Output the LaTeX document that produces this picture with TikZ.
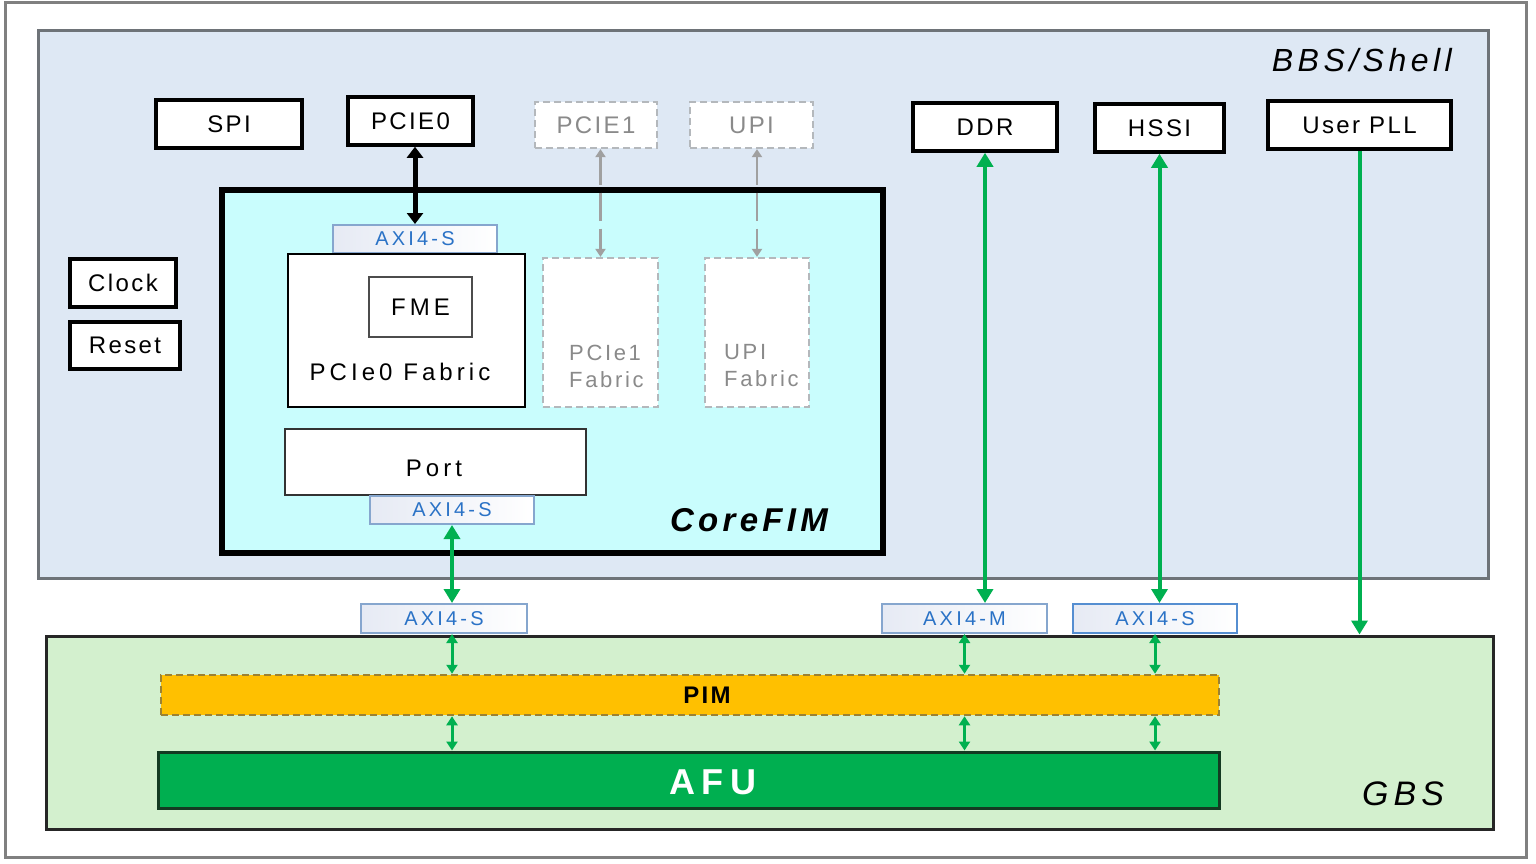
\documentclass[tikz,border=0pt]{standalone}
\usepackage{fontspec}
\setmainfont{Liberation Sans}
\usetikzlibrary{arrows.meta,fit}
\definecolor{outerg}{HTML}{808080}
\definecolor{bbsfill}{HTML}{DEE8F4}
\definecolor{bbsline}{HTML}{6E7378}
\definecolor{corefill}{HTML}{C9FDFD}
\definecolor{gbsfill}{HTML}{D3F0CE}
\definecolor{pimfill}{HTML}{FFC000}
\definecolor{pimline}{HTML}{9C8232}
\definecolor{afufill}{HTML}{00AF50}
\definecolor{afuline}{HTML}{143A22}
\definecolor{grn}{HTML}{00B050}
\definecolor{axb}{HTML}{86A6CE}
\definecolor{axl}{HTML}{E6EAF4}
\definecolor{axt}{HTML}{2A72C6}
\definecolor{dgray}{HTML}{B4B8BC}
\definecolor{tgray}{HTML}{8A8A8A}
\definecolor{agray}{HTML}{A0A0A0}
\begin{document}
\begin{tikzpicture}[x=1pt,y=-1pt,
  tx/.style={inner sep=0pt, font=\fontsize{24}{26}\selectfont\addfontfeature{LetterSpace=10}},
  txw/.style={inner sep=0pt, font=\fontsize{24}{26}\selectfont\addfontfeature{LetterSpace=17}},
  txa/.style={inner sep=0pt, text=axt, font=\fontsize{20}{22}\selectfont\addfontfeature{LetterSpace=16}},
  txg/.style={inner sep=0pt, text=tgray, font=\fontsize{22}{27}\selectfont\addfontfeature{LetterSpace=12}, align=left, anchor=west},
  blk/.style={draw=black, line width=3.5pt, fill=white, inner sep=0pt},
  dsh/.style={draw=dgray, dash pattern=on 7pt off 4pt, line width=2.2pt, fill=white, inner sep=0pt},
  axi/.style={draw=axb, line width=2pt, left color=axl, right color=white, inner sep=0pt},
  garr/.style={draw=grn, line width=4pt, {Triangle[length=14pt,width=16pt]}-{Triangle[length=14pt,width=16pt]}},
  sarr/.style={draw=grn, line width=3pt, {Triangle[length=9pt,width=11pt]}-{Triangle[length=9pt,width=11pt]}},
  barr/.style={draw=black, line width=5pt, {Triangle[length=11pt,width=16pt]}-{Triangle[length=11pt,width=16pt]}},
  darr/.style={draw=agray, line width=2.5pt, dash pattern=on 28pt off 8pt, {Triangle[length=8pt,width=10pt]}-{Triangle[length=8pt,width=10pt]}}
]
\useasboundingbox (0,0) rectangle (1536,864);
% outer frame
\node[draw=outerg, line width=3pt, fill=white, inner sep=0pt, fit={(5,3) (1526,857)}] (frame) {};
% BBS shell
\node[draw=bbsline, line width=3pt, fill=bbsfill, inner sep=0pt, fit={(38,31) (1488,578)}] (bbs) {};
\node[inner sep=0pt, font=\fontsize{32}{34}\selectfont\itshape\addfontfeature{LetterSpace=14}, anchor=east] (bbslbl) at (1452,60) {BBS/Shell};
% top row
\node[blk, fit={(156,100) (302,148)}, label={[tx]center:SPI}] (spi) {};
\node[blk, fit={(348,97) (473,145)}, label={[tx]center:PCIE0}] (pcie0) {};
\node[dsh, fit={(535,102) (657,148)}, label={[tx,text=tgray]center:PCIE1}] (pcie1) {};
\node[dsh, fit={(690,102) (813,148)}, label={[tx,text=tgray]center:UPI}] (upi) {};
\node[blk, fit={(913,103) (1057,151)}, label={[tx]center:DDR}] (ddr) {};
\node[blk, fit={(1095,104) (1224,152)}, label={[tx]center:HSSI}] (hssi) {};
\node[blk, fit={(1268,101) (1451,149)}, label={[tx]center:User PLL}] (upll) {};
\node[blk, fit={(70,259) (176,307)}, label={[tx]center:Clock}] (clock) {};
\node[blk, fit={(70,322) (180,369)}, label={[tx]center:Reset}] (reset) {};
% CoreFIM
\node[draw=black, line width=6.5pt, fill=corefill, inner sep=0pt, fit={(222,190) (883,553)}] (core) {};
\node[inner sep=0pt, font=\fontsize{33}{35}\selectfont\bfseries\itshape\addfontfeature{LetterSpace=13}] (corelbl) at (749,520) {CoreFIM};
\node[axi, fit={(333,225) (497,253)}, label={[txa]center:AXI4-S}] (axtop) {};
\node[draw=black, line width=2.5pt, fill=white, inner sep=0pt, fit={(288,254) (525,407)}] (p0fab) {};
\node[draw=black!70, line width=2.5pt, fill=white, inner sep=0pt, fit={(369,277) (472,337)}, label={[txw]center:FME}] (fme) {};
\node[txw] (p0lbl) at (400,372) {PCIe0 Fabric};
\node[dsh, fit={(543,258) (658,407)}] (p1fab) {};
\node[txg] (p1lbl) at (569,366) {PCIe1\\Fabric};
\node[dsh, fit={(705,258) (809,407)}] (upifab) {};
\node[txg] (upilbl) at (724,366) {UPI\\Fabric};
\node[draw=black!80, line width=2.5pt, fill=white, inner sep=0pt, fit={(285,429) (586,495)}] (port) {};
\node[txw] (portlbl) at (434,468) {Port};
\node[axi, fit={(370,496) (534,524)}, label={[txa]center:AXI4-S}] (axport) {};
% interface boxes
\node[axi, fit={(361,604) (527,633)}, label={[txa]center:AXI4-S}] (axa) {};
\node[axi, fit={(882,604) (1047,633)}, label={[txa]center:AXI4-M}] (axm) {};
\node[axi, draw=axt!80, fit={(1073,604) (1237,633)}, label={[txa]center:AXI4-S}] (axb) {};
% GBS
\node[draw=black!85, line width=3pt, fill=gbsfill, inner sep=0pt, fit={(46,636) (1493,829)}] (gbs) {};
\node[inner sep=0pt, font=\fontsize{34}{36}\selectfont\itshape\addfontfeature{LetterSpace=15}] (gbslbl) at (1403,794) {GBS};
\node[draw=pimline, dash pattern=on 7pt off 4pt, line width=2.5pt, fill=pimfill, inner sep=0pt, fit={(161,675) (1219,715)}] (pim) {};
\node[inner sep=0pt, font=\fontsize{24}{26}\selectfont\bfseries\addfontfeature{LetterSpace=10}] (pimlbl) at (707,695) {PIM};
\node[draw=afuline, line width=3pt, fill=afufill, inner sep=0pt, fit={(158,752) (1219,808)}] (afu) {};
\node[inner sep=0pt, text=white, font=\fontsize{36}{38}\selectfont\bfseries\addfontfeature{LetterSpace=18}] (afulbl) at (713,782) {AFU};
% connectors
\draw[barr] (axtop.north |- pcie0.south) -- (axtop.north);
\draw[darr] (p1fab.north |- pcie1.south) -- (p1fab.north);
\draw[darr] (upifab.north |- upi.south) -- (upifab.north);
\draw[garr] (axport.south) -- (axport.south |- axa.north);
\draw[garr] (ddr.south) -- (ddr.south |- axm.north);
\draw[garr] (hssi.south) -- (hssi.south |- axb.north);
\draw[draw=grn, line width=4pt, -{Triangle[length=14pt,width=16pt]}] (upll.south) -- (upll.south |- gbs.north);
\draw[sarr] (axport.south |- axa.south) -- (axport.south |- pim.north);
\draw[sarr] (axm.south) -- (axm.south |- pim.north);
\draw[sarr] (axb.south) -- (axb.south |- pim.north);
\draw[sarr] (axport.south |- pim.south) -- (axport.south |- afu.north);
\draw[sarr] (axm.south |- pim.south) -- (axm.south |- afu.north);
\draw[sarr] (axb.south |- pim.south) -- (axb.south |- afu.north);
\end{tikzpicture}
\end{document}
